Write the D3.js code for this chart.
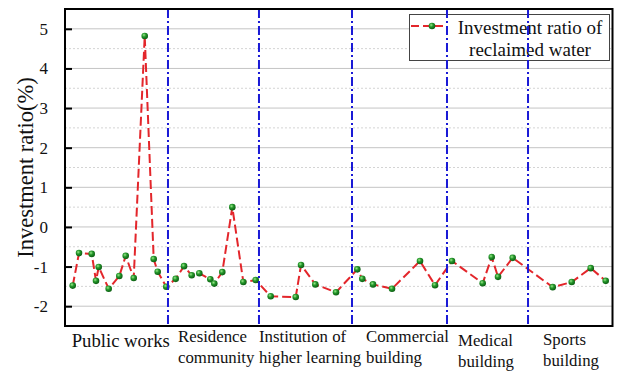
<!DOCTYPE html>
<html>
<head>
<meta charset="utf-8">
<script src="https://cdn.jsdelivr.net/npm/d3@7"></script>
<style>
  html, body { margin: 0; padding: 0; background: #fff; }
  svg { display: block; }
  text { font-family: "Liberation Serif", "Times New Roman", serif; fill: #111; }
</style>
</head>
<body>
<svg id="chart" width="617" height="374"></svg>
<script>
// Building categories, in drawing order
const categories = [
  ["Public works"],
  ["Residence", "community"],
  ["Institution of", "higher learning"],
  ["Commercial", "building"],
  ["Medical", "building"],
  ["Sports", "building"]
];

// Category boundaries along the sample axis (0-100 position scale)
const boundaries = [18.81, 35.43, 52.42, 69.77, 84.57];

// Sample positions along the horizontal axis (0-100 position scale)
const samplePos = [
  1.41, 2.56, 4.88, 5.66, 6.16, 7.98, 9.92, 11.09, 12.55, 14.56, 16.20, 16.93, 18.50,
  20.22, 21.74, 23.14, 24.53, 26.54, 27.27, 28.73, 30.56, 32.57, 34.83,
  37.57, 42.14, 43.11, 45.72, 49.50,
  53.39, 54.30, 56.26, 59.73, 64.84, 67.58,
  70.68, 76.29, 77.94, 79.09, 81.77,
  89.08, 92.55, 96.02, 98.76
];

// Investment ratio of reclaimed water (%)
const ratio = [
  -1.48, -0.66, -0.68, -1.36, -1.01, -1.56, -1.24, -0.73, -1.29, 4.82, -0.81, -1.13, -1.51,
  -1.31, -0.99, -1.22, -1.17, -1.32, -1.43, -1.14, 0.50, -1.39, -1.34,
  -1.75, -1.77, -0.96, -1.45, -1.65,
  -1.07, -1.31, -1.45, -1.56, -0.86, -1.47,
  -0.86, -1.42, -0.76, -1.26, -0.78,
  -1.52, -1.39, -1.04, -1.36
];

const yTicks = [-2, -1, 0, 1, 2, 3, 4, 5];
const yMinor = [-1.5, -0.5, 0.5, 1.5, 2.5, 3.5, 4.5];
const seriesName = ["Investment ratio of", "reclaimed water"];

const svg = d3.select("#chart");
const plot = { left: 65, right: 612.5, top: 9, bottom: 326 };

const x = d3.scaleLinear().domain([0, 100]).range([plot.left, plot.right]);
const y = d3.scaleLinear().domain([-2.5, 5.5]).range([plot.bottom, plot.top]);

// marker shading
const defs = svg.append("defs");
const grad = defs.append("radialGradient").attr("id", "ball")
  .attr("cx", "38%").attr("cy", "35%").attr("r", "65%");
grad.append("stop").attr("offset", "0%").attr("stop-color", "#9be88a");
grad.append("stop").attr("offset", "45%").attr("stop-color", "#23962a");
grad.append("stop").attr("offset", "100%").attr("stop-color", "#0c5e12");

// grid lines
svg.append("g").selectAll("line").data(yMinor).join("line")
  .attr("x1", plot.left).attr("x2", plot.right)
  .attr("y1", d => y(d)).attr("y2", d => y(d))
  .attr("stroke", "#d4d4d4").attr("stroke-width", 1).attr("stroke-dasharray", "2,2");
svg.append("g").selectAll("line").data(yTicks).join("line")
  .attr("x1", plot.left).attr("x2", plot.right)
  .attr("y1", d => y(d)).attr("y2", d => y(d))
  .attr("stroke", "#c4c4c4").attr("stroke-width", 1);

// y axis with inward ticks
const yAxis = d3.axisLeft(y).tickValues(yTicks).tickSize(-7).tickPadding(17)
  .tickFormat(d => d);
const yg = svg.append("g").attr("transform", `translate(${plot.left},0)`).call(yAxis);
yg.select(".domain").remove();
yg.selectAll(".tick line").attr("stroke", "#000").attr("stroke-width", 2);
yg.selectAll(".tick text")
  .style("font-family", '"Liberation Serif", "Times New Roman", serif')
  .style("font-size", "17px").attr("fill", "#111");

// data line and markers
const line = d3.line().x((d, i) => x(samplePos[i])).y(d => y(d));
svg.append("path").datum(ratio)
  .attr("d", line).attr("fill", "none")
  .attr("stroke", "#e3262b").attr("stroke-width", 2)
  .attr("stroke-dasharray", "9,4");
svg.append("g").selectAll("circle").data(ratio).join("circle")
  .attr("cx", (d, i) => x(samplePos[i])).attr("cy", d => y(d))
  .attr("r", 3.3).attr("fill", "url(#ball)");

// legend
const lg = svg.append("g");
lg.append("rect").attr("x", 409.5).attr("y", 14.5).attr("width", 200).attr("height", 46)
  .attr("fill", "#fff").attr("stroke", "#444").attr("stroke-width", 1);
lg.append("line").attr("x1", 411).attr("x2", 447).attr("y1", 26).attr("y2", 26)
  .attr("stroke", "#e3262b").attr("stroke-width", 2).attr("stroke-dasharray", "8,4");
lg.append("circle").attr("cx", 432).attr("cy", 26).attr("r", 3.3).attr("fill", "url(#ball)");
lg.selectAll("text").data(seriesName).join("text")
  .attr("x", 530).attr("y", (d, i) => 34 + i * 22)
  .attr("text-anchor", "middle").style("font-size", "19px").text(d => d);

// category separators
svg.append("g").selectAll("line").data(boundaries).join("line")
  .attr("x1", d => x(d)).attr("x2", d => x(d))
  .attr("y1", plot.top).attr("y2", plot.bottom)
  .attr("stroke", "#1a1ad6").attr("stroke-width", 2)
  .attr("stroke-dasharray", "9,3,2,3");

// frame
svg.append("rect").attr("x", plot.left).attr("y", plot.top)
  .attr("width", plot.right - plot.left).attr("height", plot.bottom - plot.top)
  .attr("fill", "none").attr("stroke", "#000").attr("stroke-width", 2);

// category labels: left-aligned blocks, offset from each section's left edge
const labelInset = [[6.7, 0], [10, 0], [0, 0], [14, 0], [11, 4], [15, 3]];
const edges = [0, ...boundaries, 100];
const labelG = svg.append("g");
categories.forEach((lines, k) => {
  const single = lines.length === 1;
  const [dx, dy] = labelInset[k];
  labelG.append("g").selectAll("text").data(lines).join("text")
    .attr("x", x(edges[k]) + dx)
    .attr("y", (d, i) => (single ? 347 : 342 + dy + i * 21))
    .style("font-size", single ? "18.7px" : "16.8px")
    .text(d => d);
});

// y axis title
svg.append("text")
  .attr("transform", `translate(33,167.5) rotate(-90)`)
  .attr("text-anchor", "middle").style("font-size", "22.5px")
  .text("Investment ratio(%)");
</script>
</body>
</html>
